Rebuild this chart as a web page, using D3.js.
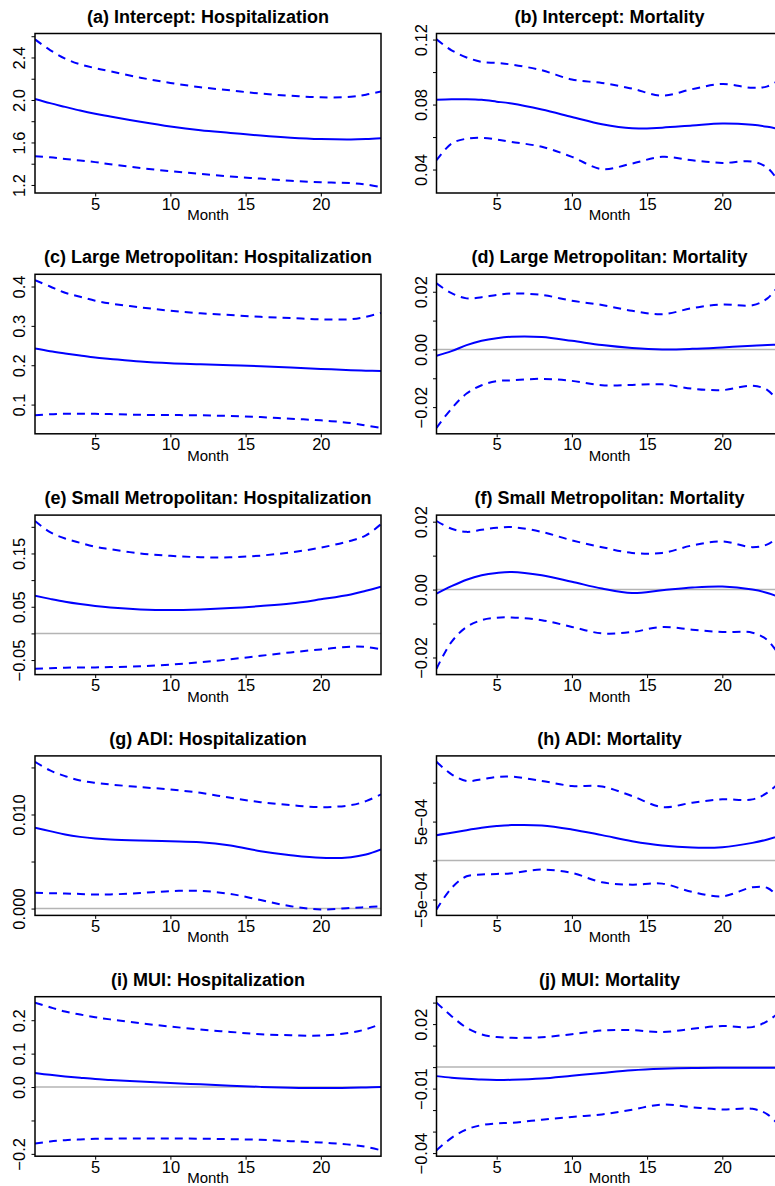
<!DOCTYPE html>
<html>
<head>
<meta charset="utf-8">
<script src="https://cdn.jsdelivr.net/npm/d3@7"></script>
<style>
  body { margin: 0; background: #fff; }
  svg text { font-family: "Liberation Sans", Arial, sans-serif; fill: #000; }
</style>
</head>
<body>
<div class="chart-container"></div>
<script>
//Width and height
const w = 775;
const h = 1186;

// months where the smooth curves were sampled
const months = [1, 2, 3, 4, 5, 6, 8, 10, 12, 14, 16, 18, 20, 22, 23, 24];

// (a) intercept, hospitalization
const interceptHospEst = [2.01, 1.97, 1.935, 1.9, 1.87, 1.845, 1.795, 1.75, 1.715, 1.69, 1.665, 1.645, 1.632, 1.628, 1.632, 1.64];
const interceptHospUpper = [2.57, 2.47, 2.39, 2.335, 2.3, 2.27, 2.21, 2.16, 2.12, 2.09, 2.06, 2.04, 2.025, 2.03, 2.05, 2.08];
const interceptHospLower = [1.47, 1.46, 1.445, 1.43, 1.415, 1.395, 1.36, 1.33, 1.305, 1.28, 1.26, 1.24, 1.225, 1.218, 1.205, 1.18];

// (b) intercept, mortality
const interceptMortEst = [0.083, 0.0833, 0.0833, 0.0829, 0.0818, 0.0806, 0.0769, 0.0724, 0.0679, 0.0654, 0.0658, 0.0671, 0.0683, 0.0675, 0.0663, 0.0645];
const interceptMortUpper = [0.1201, 0.1134, 0.109, 0.1063, 0.1056, 0.1046, 0.1011, 0.0954, 0.0933, 0.0898, 0.0855, 0.0895, 0.0927, 0.0903, 0.0912, 0.0965];
const interceptMortLower = [0.0457, 0.056, 0.059, 0.0595, 0.0585, 0.057, 0.054, 0.0478, 0.0403, 0.0437, 0.0478, 0.0457, 0.0441, 0.0449, 0.041, 0.0292];

// (c) large metropolitan, hospitalization
const largeMetroHospEst = [0.2425, 0.2357, 0.23, 0.2246, 0.2195, 0.216, 0.2093, 0.205, 0.2025, 0.2, 0.1975, 0.194, 0.1907, 0.1875, 0.1862, 0.1856];
const largeMetroHospUpper = [0.416, 0.4, 0.384, 0.374, 0.364, 0.357, 0.347, 0.3385, 0.332, 0.3275, 0.323, 0.32, 0.3164, 0.317, 0.323, 0.333];
const largeMetroHospLower = [0.0726, 0.0755, 0.0768, 0.0768, 0.0765, 0.0758, 0.074, 0.0734, 0.0728, 0.071, 0.0683, 0.064, 0.06, 0.053, 0.047, 0.0408];

// (d) large metropolitan, mortality
const largeMetroMortEst = [-0.0022, -0.0006, 0.0015, 0.003, 0.0039, 0.0044, 0.0043, 0.003, 0.0015, 0.0005, 0.0, 0.0002, 0.0007, 0.0013, 0.0015, 0.0017];
const largeMetroMortUpper = [0.0229, 0.0195, 0.0177, 0.0181, 0.0189, 0.0194, 0.0189, 0.0169, 0.0154, 0.0134, 0.0122, 0.0143, 0.0156, 0.0153, 0.0177, 0.024];
const largeMetroMortLower = [-0.0272, -0.0205, -0.0153, -0.0124, -0.011, -0.0107, -0.0102, -0.0109, -0.0124, -0.0123, -0.0121, -0.0136, -0.0141, -0.0126, -0.0141, -0.02];

// (e) small metropolitan, hospitalization
const smallMetroHospEst = [0.0706, 0.0648, 0.0594, 0.055, 0.0513, 0.0485, 0.045, 0.0438, 0.045, 0.0475, 0.0513, 0.056, 0.064, 0.073, 0.08, 0.0875];
const smallMetroHospUpper = [0.2109, 0.19, 0.178, 0.17, 0.1625, 0.158, 0.15, 0.1455, 0.143, 0.1428, 0.146, 0.152, 0.161, 0.174, 0.184, 0.205];
const smallMetroHospLower = [-0.0662, -0.0655, -0.0644, -0.064, -0.0638, -0.0632, -0.0616, -0.0585, -0.054, -0.0485, -0.042, -0.0356, -0.03, -0.025, -0.0255, -0.03];

// (f) small metropolitan, mortality
const smallMetroMortEst = [-0.0012, 0.001, 0.0029, 0.0042, 0.0049, 0.0052, 0.0042, 0.0023, 0.0003, -0.001, -0.0002, 0.0006, 0.0009, 0.0, -0.001, -0.0026];
const smallMetroMortUpper = [0.0202, 0.0179, 0.017, 0.0176, 0.0182, 0.0184, 0.017, 0.0145, 0.0125, 0.0108, 0.0108, 0.013, 0.0142, 0.0125, 0.0133, 0.0165];
const smallMetroMortLower = [-0.0233, -0.0154, -0.011, -0.009, -0.0083, -0.0082, -0.009, -0.011, -0.0129, -0.0125, -0.011, -0.0118, -0.0125, -0.0127, -0.0149, -0.0208];

// (g) ADI, hospitalization
const adiHospEst = [0.00858, 0.00823, 0.00787, 0.00762, 0.00745, 0.00734, 0.00723, 0.00716, 0.00706, 0.0067, 0.0061, 0.00567, 0.00539, 0.00546, 0.00574, 0.00628];
const adiHospUpper = [0.0156, 0.01468, 0.01408, 0.01362, 0.01337, 0.01319, 0.01291, 0.01266, 0.0123, 0.01177, 0.01131, 0.01099, 0.01078, 0.01099, 0.01142, 0.01213];
const adiHospLower = [0.00167, 0.00163, 0.0016, 0.00155, 0.00149, 0.0015, 0.00165, 0.00185, 0.00188, 0.00155, 0.0009, 0.00025, -0.0001, 0.00007, 0.00015, 0.00025];

// (h) ADI, mortality
const adiMortEst = [3.26e-4, 3.56e-4, 3.9e-4, 4.2e-4, 4.42e-4, 4.55e-4, 4.5e-4, 3.99e-4, 3.26e-4, 2.49e-4, 1.93e-4, 1.67e-4, 1.72e-4, 2.27e-4, 2.7e-4, 3.3e-4];
const adiMortUpper = [1.267e-3, 1.107e-3, 1.021e-3, 1.043e-3, 1.073e-3, 1.077e-3, 1.021e-3, 9.57e-4, 9.5e-4, 8.28e-4, 6.87e-4, 7.42e-4, 7.85e-4, 7.85e-4, 8.71e-4, 1.043e-3];
const adiMortLower = [-6.28e-4, -3.52e-4, -2.02e-4, -1.8e-4, -1.72e-4, -1.63e-4, -1.16e-4, -1.59e-4, -2.79e-4, -3.09e-4, -2.96e-4, -4.03e-4, -4.59e-4, -3.43e-4, -3.52e-4, -5.24e-4];

// (i) MUI, hospitalization
const muiHospEst = [0.0418, 0.0365, 0.0318, 0.0277, 0.0239, 0.0213, 0.0164, 0.012, 0.008, 0.004, 0.0005, -0.002, -0.003, -0.002, -0.001, 0.0];
const muiHospUpper = [0.2527, 0.2388, 0.2259, 0.217, 0.209, 0.2025, 0.191, 0.181, 0.172, 0.165, 0.158, 0.155, 0.154, 0.163, 0.173, 0.189];
const muiHospLower = [-0.169, -0.163, -0.159, -0.157, -0.155, -0.1545, -0.154, -0.154, -0.1545, -0.156, -0.158, -0.162, -0.166, -0.173, -0.179, -0.1893];

// (j) MUI, mortality
const muiMortEst = [-0.0042, -0.0049, -0.0054, -0.0058, -0.006, -0.0059, -0.0053, -0.004, -0.0027, -0.0015, -0.0008, -0.0004, -0.0003, -0.0003, -0.0003, -0.0003];
const muiMortUpper = [0.03, 0.0237, 0.0183, 0.0152, 0.014, 0.0136, 0.0139, 0.0153, 0.017, 0.0172, 0.0163, 0.0178, 0.0191, 0.0186, 0.0214, 0.0268];
const muiMortLower = [-0.0387, -0.0329, -0.029, -0.027, -0.0262, -0.0259, -0.0245, -0.0232, -0.022, -0.0198, -0.0174, -0.0187, -0.0197, -0.0194, -0.022, -0.029];

const titles = [
  "(a) Intercept: Hospitalization",
  "(b) Intercept: Mortality",
  "(c) Large Metropolitan: Hospitalization",
  "(d) Large Metropolitan: Mortality",
  "(e) Small Metropolitan: Hospitalization",
  "(f) Small Metropolitan: Mortality",
  "(g) ADI: Hospitalization",
  "(h) ADI: Mortality",
  "(i) MUI: Hospitalization",
  "(j) MUI: Mortality",
];

const xTicks = [5, 10, 15, 20];

// y ticks per panel, labels left blank where they would overlap
const yTicks = [
  [1.2, 1.4, 1.6, 1.8, 2.0, 2.2, 2.4, 2.6],
  [0.04, 0.06, 0.08, 0.1, 0.12],
  [0.1, 0.2, 0.3, 0.4],
  [-0.02, -0.01, 0, 0.01, 0.02],
  [-0.05, 0, 0.05, 0.1, 0.15, 0.2],
  [-0.02, -0.01, 0, 0.01, 0.02],
  [0, 0.005, 0.01, 0.015],
  [-5e-4, 0, 5e-4, 1e-3],
  [-0.2, -0.1, 0, 0.1, 0.2],
  [-0.04, -0.03, -0.02, -0.01, 0, 0.01, 0.02, 0.03],
];
const yTickLabels = [
  ["1.2", "", "1.6", "", "2.0", "", "2.4", ""],
  ["0.04", "", "0.08", "", "0.12"],
  ["0.1", "0.2", "0.3", "0.4"],
  ["\u22120.02", "", "0.00", "", "0.02"],
  ["\u22120.05", "", "0.05", "", "0.15", ""],
  ["\u22120.02", "", "0.00", "", "0.02"],
  ["0.000", "", "0.010", ""],
  ["\u22125e\u221204", "", "5e\u221204", ""],
  ["\u22120.2", "", "0.0", "0.1", "0.2"],
  ["\u22120.04", "", "", "\u22120.01", "", "", "0.02", ""],
];

// estimate, lower, upper for each panel, in reading order
const series = [
  [interceptHospEst, interceptHospLower, interceptHospUpper],
  [interceptMortEst, interceptMortLower, interceptMortUpper],
  [largeMetroHospEst, largeMetroHospLower, largeMetroHospUpper],
  [largeMetroMortEst, largeMetroMortLower, largeMetroMortUpper],
  [smallMetroHospEst, smallMetroHospLower, smallMetroHospUpper],
  [smallMetroMortEst, smallMetroMortLower, smallMetroMortUpper],
  [adiHospEst, adiHospLower, adiHospUpper],
  [adiMortEst, adiMortLower, adiMortUpper],
  [muiHospEst, muiHospLower, muiHospUpper],
  [muiMortEst, muiMortLower, muiMortUpper],
];

// panel grid
const colX = [35, 436.5];
const plotW = 346;
const plotH = 159.5;
const rowTop = 33.5;
const rowStep = 240.8;

const blue = "#0000ff";

//Create SVG element
const svg = d3
  .select(".chart-container")
  .append("svg")
  .attr("width", w)
  .attr("height", h);

svg.append("rect").attr("width", w).attr("height", h).attr("fill", "#fff");

const x = d3.scaleLinear().domain(d3.extent(months)).range([0, plotW]);

series.forEach((s, i) => {
  const col = i % 2;
  const row = Math.floor(i / 2);

  const g = svg
    .append("g")
    .attr("transform", `translate(${colX[col]},${rowTop + row * rowStep})`);

  // R-style limits: data range plus 4% each side
  const [lo, hi] = d3.extent(s.flat());
  const pad = (hi - lo) * 0.04;
  const y = d3
    .scaleLinear()
    .domain([lo - pad, hi + pad])
    .range([plotH, 0]);

  g.append("clipPath")
    .attr("id", `clip-${i}`)
    .append("rect")
    .attr("width", plotW)
    .attr("height", plotH);

  const plot = g.append("g").attr("clip-path", `url(#clip-${i})`);

  // zero reference line
  if (y.domain()[0] < 0 && y.domain()[1] > 0) {
    plot
      .append("line")
      .attr("x1", 0)
      .attr("x2", plotW)
      .attr("y1", y(0))
      .attr("y2", y(0))
      .attr("stroke", "#b4b4b4")
      .attr("stroke-width", 1.5);
  }

  const line = d3
    .line()
    .x((d, j) => x(months[j]))
    .y((d) => y(d))
    .curve(d3.curveCatmullRom.alpha(0.5));

  // confidence bands
  s.slice(1).forEach((band) => {
    plot
      .append("path")
      .datum(band)
      .attr("d", line)
      .attr("fill", "none")
      .attr("stroke", blue)
      .attr("stroke-width", 2)
      .attr("stroke-dasharray", "8,6");
  });

  // estimate
  plot
    .append("path")
    .datum(s[0])
    .attr("d", line)
    .attr("fill", "none")
    .attr("stroke", blue)
    .attr("stroke-width", 2);

  // x axis
  const xAxis = g
    .append("g")
    .attr("transform", `translate(0,${plotH})`)
    .call(d3.axisBottom(x).tickValues(xTicks).tickSize(3.5));
  xAxis.select(".domain").remove();
  xAxis
    .selectAll("text")
    .attr("y", 16.5)
    .attr("dy", 0)
    .style("font-size", "16.5px");

  // y axis with rotated labels
  const yAxis = g
    .append("g")
    .call(
      d3
        .axisLeft(y)
        .tickValues(yTicks[i])
        .tickFormat((d, j) => yTickLabels[i][j])
        .tickSize(3.5)
    );
  yAxis.select(".domain").remove();
  yAxis
    .selectAll("text")
    .attr("transform", "rotate(-90)")
    .attr("x", 0)
    .attr("y", -10)
    .attr("dy", 0)
    .attr("text-anchor", "middle")
    .style("font-size", "16.5px");

  g.selectAll(".tick line").attr("stroke", "#000").attr("stroke-width", 1);

  // plot frame
  g.append("rect")
    .attr("width", plotW)
    .attr("height", plotH)
    .attr("fill", "none")
    .attr("stroke", "#000")
    .attr("stroke-width", 1.5);

  // title
  g.append("text")
    .attr("x", plotW / 2)
    .attr("y", -11)
    .attr("text-anchor", "middle")
    .style("font-size", "18px")
    .style("font-weight", "bold")
    .text(titles[i]);

  // x label
  g.append("text")
    .attr("x", plotW / 2)
    .attr("y", plotH + 27)
    .attr("text-anchor", "middle")
    .style("font-size", "15px")
    .text("Month");
});
</script>
</body>
</html>
